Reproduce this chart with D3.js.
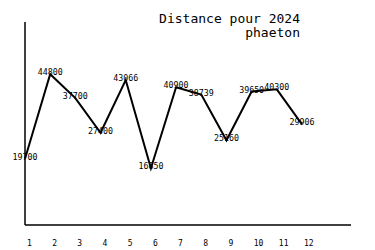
<!DOCTYPE html>
<html>
<head>
<meta charset="utf-8">
<script src="https://cdn.jsdelivr.net/npm/d3@7"></script>
<style>
  body { margin: 0; background: #fff; }
  text { font-family: "DejaVu Sans Mono", monospace; fill: #000; }
</style>
</head>
<body>
<svg id="chart" width="375" height="250"></svg>
<script>
var months = [1, 2, 3, 4, 5, 6, 7, 8, 9, 10, 11, 12];
var distances = [19700, 44800, 37700, 27400, 43066, 16850, 40900, 38739, 25160, 39650, 40300, 29906];
var titleLines = ["Distance pour 2024", "phaeton"];

var svg = d3.select("#chart");

var xScale = d3.scaleLinear()
    .domain([1, 12])
    .range([25, 302]);

var yScale = d3.scaleLinear()
    .domain([0, 60000])
    .range([225, 23]);

// title
svg.selectAll("text.title")
    .data(titleLines)
    .enter()
    .append("text")
    .attr("class", "title")
    .attr("x", 300)
    .attr("y", function (d, i) { return 23 + i * 14; })
    .attr("text-anchor", "end")
    .attr("font-size", "13px")
    .text(function (d) { return d; });

// axes
svg.append("line")
    .attr("x1", 25).attr("x2", 25)
    .attr("y1", 22).attr("y2", yScale(0))
    .attr("stroke", "#000")
    .attr("stroke-width", 1.5);

svg.append("line")
    .attr("x1", 25).attr("x2", 351)
    .attr("y1", yScale(0)).attr("y2", yScale(0))
    .attr("stroke", "#000")
    .attr("stroke-width", 1.5);

// month labels
svg.selectAll("text.month")
    .data(months)
    .enter()
    .append("text")
    .attr("class", "month")
    .attr("x", function (d) { return xScale(d) + 2; })
    .attr("y", 246)
    .attr("font-size", "8px")
    .text(function (d) { return d; });

// value labels
svg.selectAll("text.value")
    .data(distances)
    .enter()
    .append("text")
    .attr("class", "value")
    .attr("x", function (d, i) { return xScale(months[i]); })
    .attr("y", function (d) { return yScale(d) + 1; })
    .attr("text-anchor", "middle")
    .attr("font-size", "8.3px")
    .text(function (d) { return d; });

// line on top
var line = d3.line()
    .x(function (d, i) { return xScale(months[i]); })
    .y(function (d) { return yScale(d); });

svg.append("path")
    .datum(distances)
    .attr("d", line)
    .attr("fill", "none")
    .attr("stroke", "#000")
    .attr("stroke-width", 2);
</script>
</body>
</html>
